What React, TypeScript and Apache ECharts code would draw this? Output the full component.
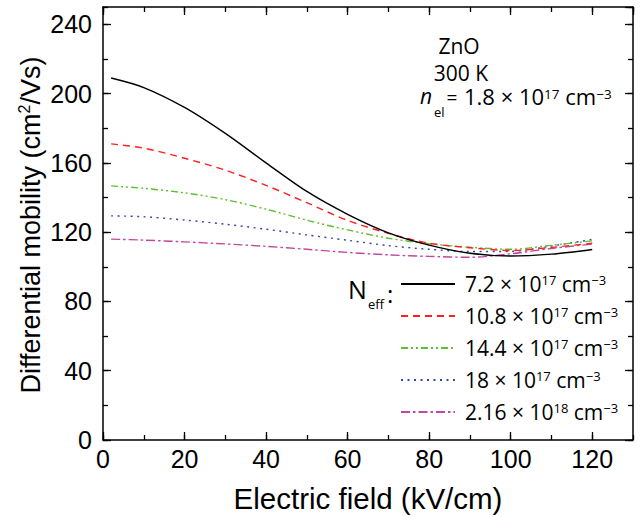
import React, { useEffect, useRef } from "react";
import * as echarts from "echarts";

// Electric field (kV/cm)
const fieldKVcm = [2, 10, 20, 30, 40, 50, 60, 70, 80, 90, 100, 110, 120];
// Differential mobility (cm^2/Vs) for each N_eff
const mobilityNeff72 = [209, 203.5, 192, 177, 160, 143.5, 130.3, 119.6, 112.5, 107.8, 106.2, 107.3, 110];
const mobilityNeff108 = [171, 168.5, 162.7, 155.8, 147, 137, 126.8, 119.3, 113.6, 111, 109.4, 111.2, 113.6];
const mobilityNeff144 = [146.7, 145.3, 142.7, 138.8, 133.3, 126.9, 121.3, 116.5, 113.3, 111.3, 110.1, 112.4, 115];
const mobilityNeff180 = [129.4, 128.9, 127, 124.6, 121.7, 118.4, 115.3, 112.2, 110.1, 108.8, 108.9, 112, 115.8];
const mobilityNeff216 = [116, 115.4, 114.4, 113.2, 111.8, 110.1, 108.3, 106.9, 106, 105.5, 107.5, 110.6, 113.1];

const neffMantissa = ["7.2", "10.8", "14.4", "18", "2.16"];
const neffExponent = ["17", "17", "17", "17", "18"];

const mobilitySeries = [mobilityNeff72, mobilityNeff108, mobilityNeff144, mobilityNeff180, mobilityNeff216];
const seriesColors = ["#000000", "#ff1f1f", "#5dbf2e", "#3346a8", "#c2479f"];
const seriesDash: any[] = ["solid", [7, 5], [7, 3, 2, 3, 2, 3], [2, 4.5], [9, 3, 2.5, 3]];

const xMin = 0, xMax = 130, xMajor = 20, xMinor = 10;
const yMin = 0, yMax = 250, yMajor = 40, yMinor = 20;

const xTitle = "Electric field (kV/cm)";
const sansFont = "Open Sans";
const axisFont = "Liberation Sans";

const seriesName = (i: number) => `${neffMantissa[i]} × 10^${neffExponent[i]} cm^-3`;

const richLegend = {
  m: { fontFamily: sansFont, fontSize: 21, lineHeight: 22, color: "#000" },
  s: { fontFamily: sansFont, fontSize: 13, lineHeight: 13, verticalAlign: "top", color: "#000" },
};
const richNote = {
  m: { fontFamily: sansFont, fontSize: 22, lineHeight: 18, color: "#000" },
  s: { fontFamily: sansFont, fontSize: 13.5, lineHeight: 10, verticalAlign: "top", color: "#000" },
};
const richYTitle = {
  t: { fontFamily: axisFont, fontSize: 27, lineHeight: 30, color: "#000" },
  u: { fontFamily: axisFont, fontSize: 16, lineHeight: 16, verticalAlign: "top", color: "#000" },
};

function makeAxis(position: string, min: number, max: number, interval: number, tickLen: number, showLine: boolean, label: any) {
  return {
    type: "value",
    position,
    min,
    max,
    interval,
    axisLine: { show: showLine, onZero: false, lineStyle: { color: "#000", width: 1.5 } },
    axisTick: { show: true, inside: true, length: tickLen, lineStyle: { color: "#000", width: 1.3 } },
    axisLabel: label || { show: false },
    splitLine: { show: false },
    minorTick: { show: false },
    minorSplitLine: { show: false },
  } as any;
}

function noteText(text: string, x: number, y: number, align: string, fontSize: number, extra: any = {}) {
  return {
    type: "text",
    style: {
      text, x, y,
      align, verticalAlign: "middle", textAlign: align, textVerticalAlign: "middle",
      fontFamily: sansFont, fontSize, lineHeight: Math.min(fontSize, 18), fill: "#000",
      ...extra,
    },
  };
}

export default function App() {
  const ref = useRef<HTMLDivElement>(null);
  useEffect(() => {
    document.body.style.margin = "0";
    const chart = echarts.init(ref.current!, null, { renderer: "svg" });
    const tickLabel = {
      show: true,
      showMaxLabel: false,
      fontFamily: axisFont,
      fontSize: 25,
      color: "#000",
    };
    const xBottom = makeAxis("bottom", xMin, xMax, xMajor, 8, true, { ...tickLabel, margin: 6 });
    xBottom.name = xTitle;
    xBottom.nameLocation = "middle";
    xBottom.nameGap = 42;
    xBottom.nameTextStyle = { fontFamily: axisFont, fontSize: 29.5, color: "#000", lineHeight: 32 };
    const yLeft = makeAxis("left", yMin, yMax, yMajor, 8, true, { ...tickLabel, margin: 11 });

    const option: any = {
      animation: false,
      backgroundColor: "#ffffff",
      grid: { left: 103, right: 7, top: 7, bottom: 77, containLabel: false, outerBoundsMode: "none" },
      xAxis: [
        xBottom,
        makeAxis("bottom", xMin, xMax, xMinor, 5, false, null),
        makeAxis("top", xMin, xMax, xMajor, 8, true, null),
        makeAxis("top", xMin, xMax, xMinor, 5, false, null),
      ],
      yAxis: [
        yLeft,
        makeAxis("left", yMin, yMax, yMinor, 5, false, null),
        makeAxis("right", yMin, yMax, yMajor, 8, true, null),
        makeAxis("right", yMin, yMax, yMinor, 5, false, null),
      ],
      legend: {
        orient: "vertical",
        left: 400,
        top: 273,
        padding: 0,
        itemWidth: 54,
        itemHeight: 14,
        itemGap: 10.5,
        itemStyle: { opacity: 0, borderWidth: 0 },
        data: mobilitySeries.map((_, i) => seriesName(i)),
        formatter: (name: string) => {
          const i = mobilitySeries.findIndex((_, k) => seriesName(k) === name);
          return `{m|${neffMantissa[i]} × 10}{s|${neffExponent[i]}}{m| cm}{s|−3}`;
        },
        textStyle: { padding: [0, 0, 0, 5], rich: richLegend },
      },
      graphic: [
        {
          type: "text",
          x: 31,
          y: 225,
          rotation: Math.PI / 2,
          style: {
            text: "{t|Differential mobility (cm}{u|2}{t|/Vs)}", rich: richYTitle,
            align: "center", verticalAlign: "middle", textAlign: "center", textVerticalAlign: "middle", fill: "#000",
          },
        },
        noteText("ZnO", 459, 46, "center", 21),
        noteText("300 K", 461, 72.5, "center", 21),
        noteText("n", 420, 96, "left", 21, { fontStyle: "italic" }),
        noteText("el", 434, 112, "left", 13),
        noteText("=", 452, 97, "center", 19),
        {
          type: "text",
          style: {
            text: "{m|1.8 × 10}{s|17}{m| cm}{s|−3}", rich: richNote, x: 464, y: 96,
            align: "left", verticalAlign: "middle", textAlign: "left", textVerticalAlign: "middle", fill: "#000",
          },
        },
        noteText("N", 348, 289, "left", 25),
        noteText("eff", 368, 304, "left", 13),
        noteText(":", 387, 293, "left", 24),
      ],
      series: mobilitySeries.map((vals, i) => ({
        type: "line",
        name: seriesName(i),
        xAxisIndex: 0,
        yAxisIndex: 0,
        data: fieldKVcm.map((x, j) => [x, vals[j]]),
        symbol: "none",
        smooth: 0.3,
        z: 10 - i,
        lineStyle: { color: seriesColors[i], width: 1.4, type: seriesDash[i] },
        itemStyle: { color: seriesColors[i] },
      })),
    };
    chart.setOption(option);
    return () => chart.dispose();
  }, []);
  return <div ref={ref} style={{ width: 640, height: 517 }} />;
}
